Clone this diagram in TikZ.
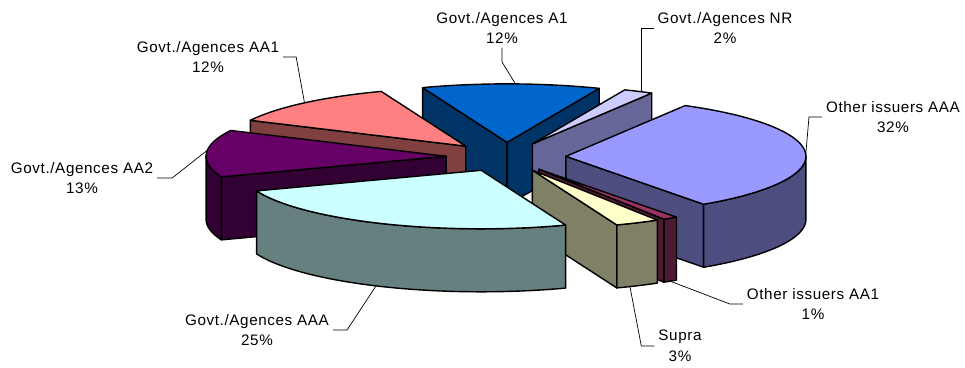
\documentclass[tikz,border=0pt]{standalone}
\usepackage{fontspec}
\setmainfont{Liberation Sans}[LetterSpace=4.0]
\usetikzlibrary{calc}
\definecolor{topA1}{HTML}{0066CC}
\definecolor{sideA1}{HTML}{003366}
\definecolor{topNR}{HTML}{CCCCFF}
\definecolor{sideNR}{HTML}{666699}
\definecolor{topOAAA}{HTML}{9999FF}
\definecolor{sideOAAA}{HTML}{4D4D80}
\definecolor{topOAA1}{HTML}{993366}
\definecolor{sideOAA1}{HTML}{4D1A33}
\definecolor{topSup}{HTML}{FFFFCC}
\definecolor{sideSup}{HTML}{808066}
\definecolor{topGAAA}{HTML}{CCFFFF}
\definecolor{sideGAAA}{HTML}{668080}
\definecolor{topAA2}{HTML}{660066}
\definecolor{sideAA2}{HTML}{330033}
\definecolor{topAA1}{HTML}{FF8080}
\definecolor{sideAA1}{HTML}{804040}
% top face: apex, from, to, colour
\newcommand{\pietop}[4]{\filldraw[slice, fill=#4, shift={(#1)}] (0,0) -- plot[domain=#2:#3] ({240*sin(\x)},{-58.5*cos(\x)}) -- cycle;}
% outer wall: apex, from, to, colour
\newcommand{\pieside}[4]{\filldraw[slice, fill=#4, shift={(#1)}] plot[domain=#2:#3] ({240*sin(\x)},{-58.5*cos(\x)}) -- plot[domain=#3:#2] ({240*sin(\x)},{63-58.5*cos(\x)}) -- cycle;}
% cut face: apex, angle, colour
\newcommand{\pieface}[3]{\filldraw[slice, fill=#3, shift={(#1)}] (0,0) -- ({240*sin(#2)},{-58.5*cos(#2)}) -- ++(0,63) -- (0,63) -- cycle;}
\begin{document}
\begin{tikzpicture}[x=0.03cm, y=-0.03cm,
  slice/.style={draw=black, line width=1.2pt, line join=round, samples=40},
  lab/.style={align=center, font=\fontsize{13}{17.5}\selectfont},
  lead/.style={draw=black, line width=0.6pt}]
\useasboundingbox (0,0) rectangle (965,367);
% apex of every slice
\coordinate (oA1) at ({506+60*sin(1)},{157-14.625*cos(1)});
\coordinate (oNR) at ({506+60*sin(26.2)},{157-14.625*cos(26.2)});
\coordinate (oOAAA) at ({506+60*sin(87.4)},{157-14.625*cos(87.4)});
\coordinate (oOAA1) at ({506+60*sin(146.8)},{157-14.625*cos(146.8)});
\coordinate (oSup) at ({506+60*sin(154)},{157-14.625*cos(154)});
\coordinate (oGAAA) at ({506+60*sin(204.4)},{157-14.625*cos(204.4)});
\coordinate (oAA2) at ({506+60*sin(272.8)},{157-14.625*cos(272.8)});
\coordinate (oAA1) at ({506+60*sin(317.8)},{157-14.625*cos(317.8)});
% slices, back to front
\pieface{oA1}{-20.6}{sideA1}
\pieface{oA1}{22.6}{sideA1}
\pietop{oA1}{-20.6}{22.6}{topA1}
\pieface{oNR}{29.8}{sideNR}
\pietop{oNR}{22.6}{29.8}{topNR}
\pieface{oAA1}{296.2}{sideAA1}
\pietop{oAA1}{296.2}{339.4}{topAA1}
\pieface{oOAAA}{145}{sideOAAA}
\pieside{oOAAA}{90}{145}{sideOAAA}
\pietop{oOAAA}{29.8}{145}{topOAAA}
\pieface{oAA2}{249.4}{sideAA2}
\pieside{oAA2}{249.4}{270}{sideAA2}
\pietop{oAA2}{249.4}{296.2}{topAA2}
\pieside{oOAA1}{145}{148.6}{sideOAA1}
\pieface{oOAA1}{148.6}{sideOAA1}
\pietop{oOAA1}{145}{148.6}{topOAA1}
\pieside{oSup}{148.6}{159.4}{sideSup}
\pieface{oSup}{159.4}{sideSup}
\pietop{oSup}{148.6}{159.4}{topSup}
\pieside{oGAAA}{159.4}{249.4}{sideGAAA}
\pietop{oGAAA}{159.4}{249.4}{topGAAA}
% leader tips on the rims
\coordinate (tA1) at ($(oA1)+({240*sin(2)},{-58.5*cos(2)})$);
\coordinate (tNR) at ($(oNR)+({240*sin(27)},{-58.5*cos(27)})$);
\coordinate (tOAAA) at ($(oOAAA)+({240*sin(88)},{-58.5*cos(88)})$);
\coordinate (tAA1) at ($(oAA1)+({240*sin(317.8)},{-58.5*cos(317.8)})$);
\coordinate (tAA2) at ($(oAA2)+({240*sin(276)},{-58.5*cos(276)})$);
\coordinate (tGAAA) at ($(oGAAA)+({240*sin(206)},{63-58.5*cos(206)})$);
\coordinate (tOAA1) at ($(oOAA1)+({240*sin(146.8)},{63-58.5*cos(146.8)})$);
\coordinate (tSup) at ($(oSup)+({240*sin(156)},{63-58.5*cos(156)})$);
% labels
\node[lab] (lA1) at (502,28) {Govt./Agences A1\\12\%};
\node[lab] (lNR) at (725,28) {Govt./Agences NR\\2\%};
\node[lab] (lOAAA) at (893,117) {Other issuers AAA\\32\%};
\node[lab] (lOAA1) at (813,304) {Other issuers AA1\\1\%};
\node[lab] (lSup) at (680,346) {Supra\\3\%};
\node[lab] (lGAAA) at (257,330) {Govt./Agences AAA\\25\%};
\node[lab] (lAA2) at (82,178) {Govt./Agences AA2\\13\%};
\node[lab] (lAA1) at (208,57) {Govt./Agences AA1\\12\%};
\draw[lead](lA1.south) -- ++(0,14) -- (tA1);
\draw[lead](lNR.west) -| (tNR);
\draw[lead](lOAAA.west) -- ++(-13,0) -- (tOAAA);
\draw[lead](lOAA1.west) -- ++(-13,0) -- (tOAA1);
\draw[lead](lSup.west) -- ++(-13,0) -- (tSup);
\draw[lead](lGAAA.east) -- ++(14,0) -- (tGAAA);
\draw[lead](lAA2.east) -- ++(15,0) -- (tAA2);
\draw[lead](lAA1.east) -- ++(13,0) -- (tAA1);
\end{tikzpicture}
\end{document}
